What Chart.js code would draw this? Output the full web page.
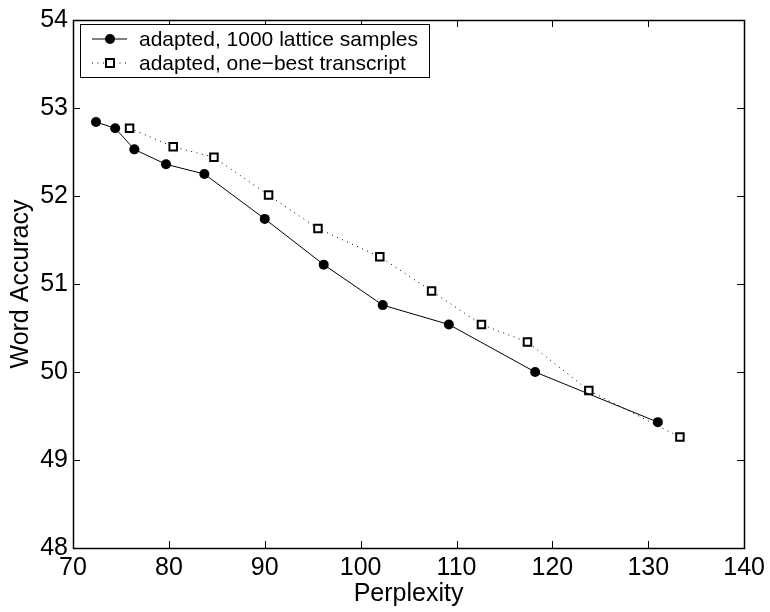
<!DOCTYPE html>
<html>
<head>
<meta charset="utf-8">
<script src="https://cdn.jsdelivr.net/npm/chart.js@4.4.0/dist/chart.umd.min.js"></script>
<style>
html,body{margin:0;padding:0;background:#fff;}
#wrap{width:770px;height:612px;}
</style>
</head>
<body>
<div id="wrap"><canvas id="c" width="770" height="612"></canvas></div>
<script>
const seriesLabels = ["adapted, 1000 lattice samples", "adapted, one\u2212best transcript"];
const perpLattice = [72.4, 74.4, 76.4, 79.7, 83.7, 90.0, 96.15, 102.3, 109.2, 118.2, 131.0];
const accLattice  = [52.84, 52.77, 52.53, 52.36, 52.25, 51.74, 51.22, 50.76, 50.54, 50.0, 49.43];
const perpOneBest = [75.9, 80.45, 84.7, 90.4, 95.55, 102.0, 107.4, 112.6, 117.4, 123.8, 133.3];
const accOneBest  = [52.77, 52.56, 52.44, 52.01, 51.63, 51.31, 50.92, 50.54, 50.34, 49.79, 49.26];
const xTicks = [70, 80, 90, 100, 110, 120, 130, 140];
const yTicks = [48, 49, 50, 51, 52, 53, 54];
const xTitle = "Perplexity";
const yTitle = "Word Accuracy";

const FONT = '"Liberation Sans", Arial, Helvetica, sans-serif';
const toPts = (xs, ys) => xs.map((x, i) => ({x: x, y: ys[i]}));

const framePlugin = {
  id: 'frame',
  afterDatasetsDraw(chart) {
    const {ctx, chartArea: a, scales: {x, y}} = chart;
    ctx.save();
    ctx.strokeStyle = '#000';
    ctx.lineWidth = 1;
    const tl = 7;
    ctx.beginPath();
    xTicks.forEach(v => {
      const px = Math.round(x.getPixelForValue(v)) + 0.5;
      ctx.moveTo(px, a.bottom); ctx.lineTo(px, a.bottom - tl);
      ctx.moveTo(px, a.top); ctx.lineTo(px, a.top + tl);
    });
    yTicks.forEach(v => {
      const py = Math.round(y.getPixelForValue(v)) + 0.5;
      ctx.moveTo(a.left, py); ctx.lineTo(a.left + tl, py);
      ctx.moveTo(a.right, py); ctx.lineTo(a.right - tl, py);
    });
    ctx.stroke();
    ctx.lineWidth = 1.5;
    ctx.strokeRect(Math.round(a.left) + 0.5, Math.round(a.top) + 0.5, Math.round(a.right - a.left), Math.round(a.bottom - a.top));
    ctx.restore();
  }
};

const legendPlugin = {
  id: 'boxLegend',
  afterDraw(chart) {
    const {ctx} = chart;
    const bx = 80.5, by = 24.5, bw = 349, bh = 53;
    ctx.save();
    ctx.fillStyle = '#fff';
    ctx.fillRect(bx, by, bw, bh);
    ctx.strokeStyle = '#000';
    ctx.lineWidth = 1;
    ctx.strokeRect(bx, by, bw, bh);
    const rows = [39, 63];
    chart.data.datasets.forEach((ds, i) => {
      const yy = rows[i];
      ctx.strokeStyle = '#000';
      ctx.lineWidth = 1;
      ctx.setLineDash(ds.borderDash || []);
      ctx.beginPath();
      ctx.moveTo(92, yy); ctx.lineTo(127, yy);
      ctx.stroke();
      ctx.setLineDash([]);
      if (i === 0) {
        ctx.fillStyle = '#000';
        ctx.beginPath(); ctx.arc(110, yy, 5, 0, Math.PI * 2); ctx.fill();
      } else {
        ctx.fillStyle = '#fff';
        ctx.fillRect(106, yy - 4, 8, 8);
        ctx.lineWidth = 2;
        ctx.strokeRect(106, yy - 4, 8, 8);
      }
      ctx.fillStyle = '#000';
      ctx.font = '21px ' + FONT;
      ctx.textBaseline = 'middle';
      ctx.textAlign = 'left';
      ctx.fillText(ds.label, 139, yy + 1);
    });
    ctx.restore();
  }
};

new Chart(document.getElementById('c'), {
  type: 'line',
  data: {
    datasets: [
      {
        label: seriesLabels[0],
        data: toPts(perpLattice, accLattice),
        borderColor: '#000', borderWidth: 1,
        pointStyle: 'circle', pointRadius: 5, pointBackgroundColor: '#000', pointBorderColor: '#000', pointBorderWidth: 0,
        tension: 0, fill: false
      },
      {
        label: seriesLabels[1],
        data: toPts(perpOneBest, accOneBest),
        borderColor: '#000', borderWidth: 1, borderDash: [1, 4.5],
        pointStyle: 'rect', pointRadius: 5.3, pointBackgroundColor: '#fff', pointBorderColor: '#000', pointBorderWidth: 2,
        tension: 0, fill: false
      }
    ]
  },
  options: {
    responsive: false,
    devicePixelRatio: 1,
    animation: false,
    layout: {padding: {top: 17, right: 25, left: 0, bottom: 0}},
    plugins: {legend: {display: false}, tooltip: {enabled: false}},
    scales: {
      x: {
        type: 'linear', min: 70, max: 140,
        afterFit(s) { s.height = 64; },
        afterBuildTicks(s) { s.ticks = xTicks.map(v => ({value: v})); },
        grid: {display: false, drawTicks: false},
        border: {display: false},
        ticks: {color: '#000', font: {family: FONT, size: 25}, padding: 5, maxRotation: 0, autoSkip: false},
        title: {display: true, text: xTitle, color: '#000', font: {family: FONT, size: 25}, padding: {top: 0, bottom: 3}}
      },
      y: {
        type: 'linear', min: 48, max: 54,
        afterFit(s) { s.width = 73; },
        afterBuildTicks(s) { s.ticks = yTicks.map(v => ({value: v})); },
        grid: {display: false, drawTicks: false},
        border: {display: false},
        ticks: {color: '#000', font: {family: FONT, size: 25}, padding: 5, autoSkip: false},
        title: {display: true, text: yTitle, color: '#000', font: {family: FONT, size: 25}, padding: {top: 6, bottom: 0}}
      }
    }
  },
  plugins: [framePlugin, legendPlugin]
});
</script>
</body>
</html>
